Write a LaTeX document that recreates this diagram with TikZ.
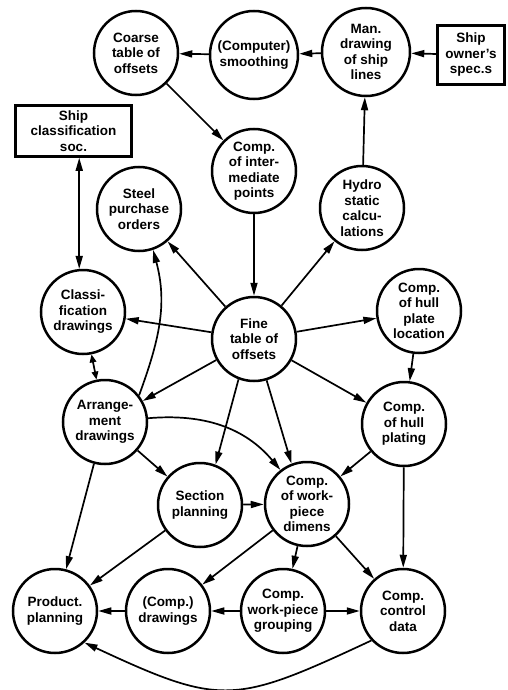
\documentclass[tikz,border=0pt]{standalone}
\usepackage{fontspec}
\setmainfont{Liberation Sans}
\usetikzlibrary{arrows.meta}
\begin{document}
\begin{tikzpicture}[x=1pt,y=1pt,
  lbl/.style={font=\fontsize{13.5}{15.5}\selectfont\bfseries},
  proc/.style={circle,draw,line width=2.5pt,minimum size=84pt,inner sep=0pt,align=center,lbl},
  ext/.style={rectangle,draw,line width=2.5pt,inner sep=0pt,align=center,lbl},
  tip/.tip={Triangle[length=13pt,width=7pt]},
  smalltip/.tip={Triangle[length=8pt,width=6.5pt]},
  flow/.style={line width=1.7pt,-tip},
  bi/.style={line width=1.7pt,tip-tip},
  bishort/.style={line width=1.7pt,smalltip-smalltip}]
\useasboundingbox (0,0) rectangle (508,-690);
% nodes
\node[proc] (coarse) at (136,-53) {Coarse\\table of\\offsets};
\node[proc,minimum size=88pt] (smooth) at (254,-55) {(Computer)\\smoothing};
\node[proc,minimum size=88pt] (man) at (366,-52) {Man.\\drawing\\of ship\\lines};
\node[ext,minimum width=67pt,minimum height=59pt] (owner) at (471,-55) {Ship\\owner's\\spec.s};
\node[ext,minimum width=116pt,minimum height=51pt] (soc) at (73.5,-131) {Ship\\classification\\soc.};
\node[proc] (inter) at (254,-171) {Comp.\\of inter-\\mediate\\points};
\node[proc] (steel) at (139,-209) {Steel\\purchase\\orders};
\node[proc] (hydro) at (362,-208) {Hydro\\static\\calcu-\\lations};
\node[proc] (classi) at (83,-312) {Classi-\\fication\\drawings};
\node[proc] (fine) at (254,-339) {Fine\\table of\\offsets};
\node[proc] (loc) at (419,-311) {Comp.\\of hull\\plate\\location};
\node[proc] (arr) at (105,-422) {Arrange-\\ment\\drawings};
\node[proc] (plating) at (404,-424) {Comp.\\of hull\\plating};
\node[proc] (section) at (200,-505) {Section\\planning};
\node[proc] (dimens) at (307,-504) {Comp.\\of work-\\piece\\dimens};
\node[proc] (prod) at (55,-611) {Product.\\planning};
\node[proc] (cdraw) at (168,-611) {(Comp.)\\drawings};
\node[proc] (group) at (283,-611) {Comp.\\work-piece\\grouping};
\node[proc] (control) at (403,-611) {Comp.\\control\\data};
% connectors
\draw[flow] (smooth) -- (coarse);
\draw[flow] (man) -- (smooth);
\draw[flow] (owner) -- (man);
\draw[flow] (coarse) -- (inter);
\draw[flow] (hydro) -- (man);
\draw[flow] (inter) -- (fine);
\draw[flow] (fine) -- (steel);
\draw[flow] (fine) -- (hydro);
\draw[flow] (fine) -- (classi);
\draw[flow] (fine) -- (loc);
\draw[flow] (fine) -- (arr);
\draw[flow] (fine.249) -- (section.69);
\draw[flow] (fine.287) -- (dimens.111);
\draw[flow] (fine) -- (plating);
\draw[bi] (classi.95) -- (classi.95 |- soc.south);
\draw[bishort] (classi) -- (arr);
\draw[flow] (arr.38) to[out=70,in=-75] (steel.289);
\draw[flow] (arr.5) to[out=5,in=130] (dimens.128);
\draw[flow] (arr) -- (section);
\draw[flow] (arr) -- (prod);
\draw[flow] (loc) -- (plating);
\draw[flow] (plating) -- (dimens);
\draw[flow] (plating) -- (control);
\draw[flow] (section) -- (dimens);
\draw[flow] (section) -- (prod);
\draw[flow] (dimens) -- (cdraw);
\draw[flow] (dimens) -- (group);
\draw[flow] (dimens) -- (control);
\draw[flow] (cdraw) -- (prod);
\draw[flow] (group) -- (cdraw);
\draw[flow] (group) -- (control);
\draw[flow] (control.223) to[out=205,in=-25,looseness=1.35] (prod.313);
\end{tikzpicture}
\end{document}
